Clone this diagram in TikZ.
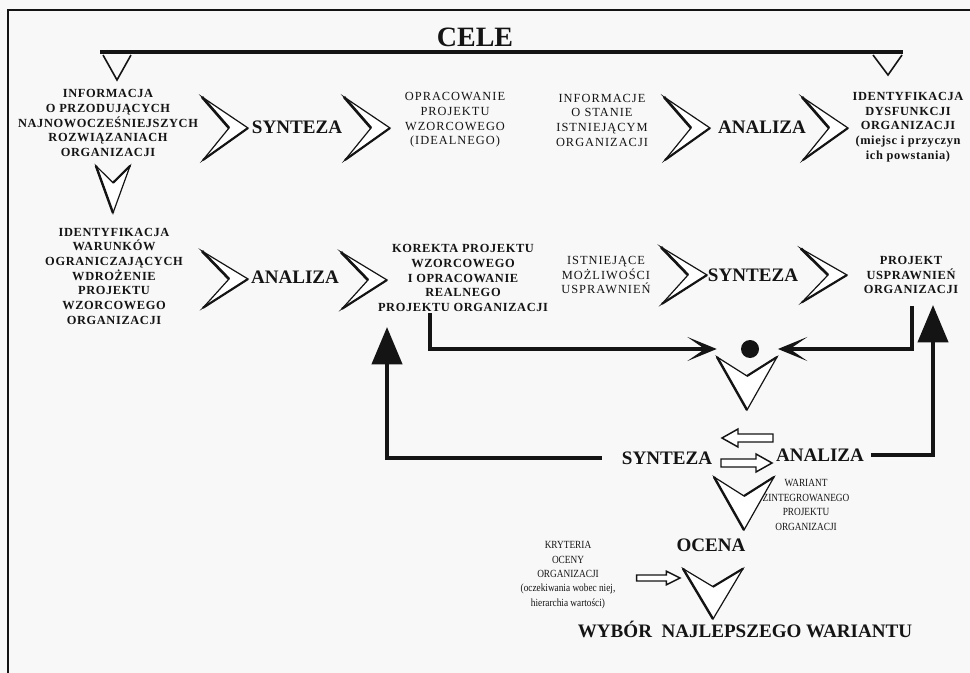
\documentclass[tikz,border=0pt]{standalone}
\usepackage{fontspec}
\setmainfont{Liberation Serif}
\newfontfamily\lblfont[LetterSpace=5]{Liberation Serif}
\newfontfamily\thinfont[LetterSpace=8]{Liberation Serif}
\newfontfamily\narrowfont[FakeStretch=0.85]{Liberation Serif}
\usetikzlibrary{arrows.meta,calc}

\definecolor{paper}{RGB}{248,248,248}
\definecolor{ink}{RGB}{20,20,20}

\tikzset{
  lblb/.style={font=\lblfont\bfseries\fontsize{9.3}{11}\selectfont, align=center, inner sep=0pt, text=ink},
  lblr/.style={font=\thinfont\fontsize{9.3}{11}\selectfont, align=center, inner sep=0pt, text=ink},
  lbln/.style={font=\narrowfont\fontsize{8.2}{10.8}\selectfont, align=center, inner sep=0pt, text=ink},
  stage/.style={font=\bfseries\fontsize{14.3}{16}\selectfont, inner sep=0pt, anchor=base, text=ink},
  goal/.style={font=\bfseries\fontsize{21}{23}\selectfont, inner sep=0pt, anchor=base, text=ink},
  dotnode/.style={circle, fill=ink, minimum size=13.5pt, inner sep=0pt},
  feed/.style={draw=ink, line width=3pt, -{Stealth[length=22pt, width=18pt, inset=13pt]}},
  bigarrow/.style={draw=ink, line width=3.2pt, -{Triangle[length=28pt, width=22.5pt]}},
  vee/.style={draw=ink, line width=1.2pt, line join=miter},
  % open right-pointing chevron, tip at the origin
  chevR/.pic={
    \filldraw[fill=white, draw=ink, line width=0.9pt, line join=miter]
      (-46,-31) -- (0,0) -- (-45,32) -- (-19,0) -- cycle;
    \draw[ink, line width=2pt] (-46,-31) -- (-19,0);
    \draw[ink, line width=1.6pt] (0,0) -- (-45,32);
  },
  % open down-pointing chevron, tip at the origin
  chevD/.pic={
    \filldraw[fill=white, draw=ink, line width=0.9pt, line join=miter]
      (-30,-53) -- (0,-34) -- (30,-53) -- (0,0) -- cycle;
    \draw[ink, line width=1.8pt] (-30,-53) -- (0,0);
    \draw[ink, line width=1.6pt] (0,-34) -- (30,-53);
  },
  % hollow block arrow, tip at the origin, pointing right
  hollow/.pic={
    \filldraw[fill=white, draw=ink, line width=1.1pt, line join=miter]
      (0,0) -- (-16,-9) -- (-16,-4) -- (-51,-4) -- (-51,4) -- (-16,4) -- (-16,9) -- cycle;
  }
}

\begin{document}
\begin{tikzpicture}[x=0.75pt, y=-0.75pt]
  \fill[paper] (0,0) rectangle (970,673);
  \useasboundingbox (0,0) rectangle (970,673);

  % frame
  \draw[ink, line width=1.5pt] (8,673) -- (8,10) -- (970,10);

  % goals bar
  \node[goal] (cele) at (475,47) {CELE};
  \draw[ink, line width=3pt] (100,52) -- (903,52);
  \draw[vee] (103,55) -- (117,80) -- (131,55);
  \draw[vee] (873,55) -- (888,75) -- (902,55);

  % first row
  \node[lblb] (infoNew) at (108,123) {INFORMACJA\\O PRZODUJĄCYCH\\NAJNOWOCZEŚNIEJSZYCH\\ROZWIĄZANIACH\\ORGANIZACJI};
  \pic at (248,128) {chevR};
  \node[stage] (synA) at (297,134) {SYNTEZA};
  \pic at (390,128) {chevR};
  \node[lblr] (ideal) at (455,120) {OPRACOWANIE\\PROJEKTU\\WZORCOWEGO\\(IDEALNEGO)};
  \node[lblr] (infoState) at (602,120) {INFORMACJE\\O STANIE\\ISTNIEJĄCYM\\ORGANIZACJI};
  \pic at (710,128) {chevR};
  \node[stage] (anaA) at (762,134) {ANALIZA};
  \pic at (848,128) {chevR};
  \node[lblb] (dysf) at (908,127) {IDENTYFIKACJA\\DYSFUNKCJI\\ORGANIZACJI\\(miejsc i przyczyn\\ich powstania)};

  % link between the rows on the left
  \pic[xscale=0.57, yscale=0.89] at (113,213) {chevD};

  % second row
  \node[lblb] (limits) at (114,276) {IDENTYFIKACJA\\WARUNKÓW\\OGRANICZAJĄCYCH\\WDROŻENIE\\PROJEKTU\\WZORCOWEGO\\ORGANIZACJI};
  \pic[yscale=0.9] at (248,279) {chevR};
  \node[stage] (anaB) at (295,284) {ANALIZA};
  \pic[yscale=0.9] at (387,280) {chevR};
  \node[lblb] (korekta) at (463,278) {KOREKTA PROJEKTU\\WZORCOWEGO\\I OPRACOWANIE\\REALNEGO\\PROJEKTU ORGANIZACJI};
  \node[lblr] (possib) at (606,275) {ISTNIEJĄCE\\MOŻLIWOŚCI\\USPRAWNIEŃ};
  \pic[yscale=0.9] at (707,275) {chevR};
  \node[stage] (synB) at (753,282) {SYNTEZA};
  \pic[yscale=0.85] at (847,275) {chevR};
  \node[lblb] (improve) at (911,275) {PROJEKT\\USPRAWNIEŃ\\ORGANIZACJI};

  % merging point
  \node[dotnode] (dot) at (750,349) {};
  \coordinate (kx) at (430,0);
  \coordinate (px) at (912,0);
  \draw[feed] ([yshift=-1pt]korekta.south -| kx) |- ([xshift=-18pt]dot.west);
  \draw[feed] ([yshift=-9pt]improve.south -| px) |- ([xshift=14pt]dot.east);
  \pic at (747,410) {chevD};

  % synthesis / analysis loop
  \node[stage] (synC) at (667,464) {SYNTEZA};
  \node[stage] (anaC) at (820,461) {ANALIZA};
  \pic[xscale=-1] at (722,438) {hollow};
  \pic at (772,463) {hollow};
  \coordinate (upL) at (387,327);
  \coordinate (upR) at (933,305);
  \draw[bigarrow] ([xshift=-15pt]synC.west) -| (upL);
  \draw[bigarrow] ([xshift=5pt]anaC.east) -| (upR);

  % evaluation
  \node[lbln] (variant) at (806,505) {WARIANT\\ZINTEGROWANEGO\\PROJEKTU\\ORGANIZACJI};
  \pic at (744,530) {chevD};
  \node[stage] (ocena) at (711,551) {OCENA};
  \node[lbln] (criteria) at (568,575) {KRYTERIA\\OCENY\\ORGANIZACJI\\(oczekiwania wobec niej,\\hierarchia wartości)};
  \pic[xscale=0.85, yscale=0.75] at (680,578) {hollow};
  \pic[yscale=0.95] at (713,619) {chevD};
  \node[stage] (wybor) at (745,637) {WYBÓR\ \ NAJLEPSZEGO WARIANTU};
\end{tikzpicture}
\end{document}
